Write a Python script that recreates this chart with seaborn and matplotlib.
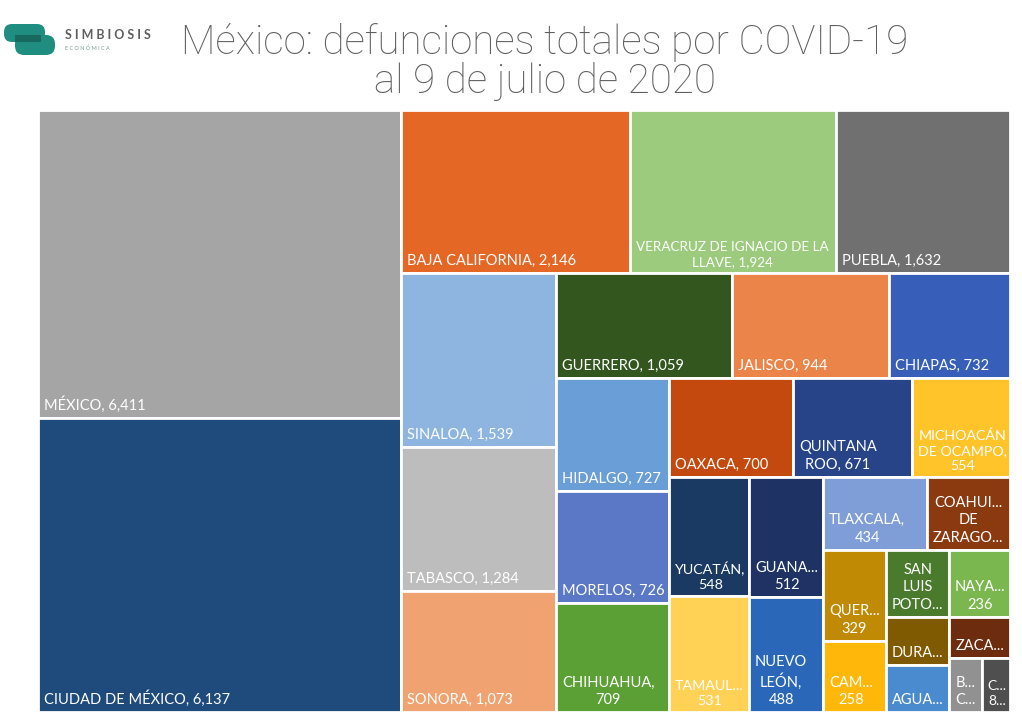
import matplotlib
matplotlib.use("Agg")
import matplotlib.pyplot as plt
import seaborn as sns
from matplotlib.patches import Rectangle, FancyBboxPatch

sns.set_theme(style="white")
plt.rcParams['font.family'] = ['Lato', 'DejaVu Sans']

# ---------------- data ----------------
states = ["México", "Ciudad de México", "Baja California", "Veracruz de Ignacio de la Llave",
          "Puebla", "Sinaloa", "Tabasco", "Sonora", "Guerrero", "Jalisco", "Chiapas",
          "Hidalgo", "Morelos", "Chihuahua", "Oaxaca", "Quintana Roo", "Michoacán de Ocampo",
          "Yucatán", "Tamaulipas", "Guanajuato", "Nuevo León", "Tlaxcala",
          "Coahuila de Zaragoza", "Querétaro", "Campeche", "San Luis Potosí", "Nayarit",
          "Durango", "Aguascalientes", "Zacatecas", "Baja California Sur", "Colima"]
deaths = [6411, 6137, 2146, 1924, 1632, 1539, 1284, 1073, 1059, 944, 732,
          727, 726, 709, 700, 671, 554, 548, 531, 512, 488, 434,
          347, 329, 258, 240, 236, 174, 172, 146, 100, 87]
# displayed (truncated / wrapped) label text, and whether the value is shown
label_text = ["MÉXICO, ", "CIUDAD DE MÉXICO, ", "BAJA CALIFORNIA, ",
              "VERACRUZ DE IGNACIO DE LA\nLLAVE, ", "PUEBLA, ", "SINALOA, ", "TABASCO, ",
              "SONORA, ", "GUERRERO, ", "JALISCO, ", "CHIAPAS, ", "HIDALGO, ", "MORELOS, ",
              "CHIHUAHUA,\n", "OAXACA, ", "QUINTANA\nROO, ", "MICHOACÁN\nDE OCAMPO,\n",
              "YUCATÁN,\n", "TAMAUL...\n", "GUANA...\n", "NUEVO\nLEÓN,\n", "TLAXCALA,\n",
              "COAHUI...\nDE\nZARAGO...", "QUER...\n", "CAM...\n", "SAN\nLUIS\nPOTO...",
              "NAYA...\n", "DURA...", "AGUA...", "ZACA...", "B...\nC...", "C...\n8..."]
show_value = [True] * 22 + [False, True, True, False, True, False, False, False, False, False]
colors = ["#A5A5A5", "#1F4A7C", "#E46726", "#9CCB7D", "#707070", "#8DB5E0", "#BDBDBD",
          "#F0A270", "#33561F", "#EB8449", "#375EB8", "#6A9ED6", "#5A78C5", "#5BA035",
          "#C4490F", "#264487", "#FFC42A", "#1A3A63", "#FFD155", "#1E3263", "#2A67B8",
          "#7F9DD6", "#8B3A10", "#C08A05", "#FFB70A", "#4A7A2C", "#7AB84F", "#7F5A00",
          "#4A8BD0", "#6E2C0E", "#919191", "#4F4F4F"]

title = "México: defunciones totales por COVID-19\nal 9 de julio de 2020"

# ---------------- treemap layout (Excel-like strip squarify) ----------------
W, H = 972.0, 602.0   # plot area in pixels


def treemap(vals, x, y, w, h, bias=1.07, min_ratio=0.725):
    total = sum(vals)
    areas = [v * w * h / total for v in vals]
    rects = []
    i, n = 0, len(areas)
    while i < n:
        vertical = w > bias * h
        side = h if vertical else w
        row = [areas[i]]
        j = i + 1
        while j < n:
            t = (sum(row) + areas[j]) / side
            if (areas[j] / t) / t >= min_ratio:
                row.append(areas[j])
                j += 1
            else:
                break
        t = sum(row) / side
        pos = 0.0
        for a in row:
            ln = a / t
            rects.append((x, y + pos, t, ln) if vertical else (x + pos, y, ln, t))
            pos += ln
        if vertical:
            x += t
            w -= t
        else:
            y += t
            h -= t
        i = j
    return rects


rects = treemap(deaths, 0, 0, W, H)

# ---------------- figure ----------------
fig = plt.figure(figsize=(10.22, 7.22), dpi=100)
ax = fig.add_axes([38 / 1022, 1 - 712 / 722, W / 1022, H / 722])
ax.set_xlim(0, W)
ax.set_ylim(H, 0)
ax.axis("off")
renderer = fig.canvas.get_renderer()

for (rx, ry, rw, rh), col, lab, sv, v in zip(rects, colors, label_text, show_value, deaths):
    ax.add_patch(Rectangle((rx, ry), rw, rh, facecolor=col, edgecolor="white", linewidth=2))
    txt = lab + (f"{v:,}" if sv else "")
    t = ax.text(rx + 6, ry + rh - 5, txt, ha="left", va="bottom",
                multialignment="center", color="white", fontsize=10.5, linespacing=1.3)
    fs = 10.5
    while fs > 8 and t.get_window_extent(renderer).width > rw - 9:
        fs -= 0.25
        t.set_fontsize(fs)

# title
fig.text(545 / 1022, 1 - 62 / 722, title, ha="center", va="center",
         fontsize=29, color="#5E5E5E", fontweight="light", linespacing=1.0,
         family=["Roboto", "DejaVu Sans"])

# logo
lax = fig.add_axes([0, 1 - 80 / 722, 160 / 1022, 80 / 722])
lax.set_xlim(0, 160)
lax.set_ylim(80, 0)
lax.axis("off")
lax.add_patch(FancyBboxPatch((4, 24), 41, 18, boxstyle="round,pad=0,rounding_size=8",
                             facecolor="#1F8E80", edgecolor="none"))
lax.add_patch(FancyBboxPatch((15, 35), 40, 20, boxstyle="round,pad=0,rounding_size=9",
                             facecolor="#1F8E80", edgecolor="none"))
lax.add_patch(Rectangle((15, 35), 26, 7, facecolor="#17695F", edgecolor="none"))
lax.text(65, 35, "S I M B I O S I S", fontsize=9, fontweight="bold", color="#5E5E5E",
         va="center", ha="left")
lax.text(65, 48, "E C O N Ó M I C A", fontsize=4, color="#7A9A95", va="center", ha="left")

fig.savefig("out.png", dpi=100, facecolor="white")
